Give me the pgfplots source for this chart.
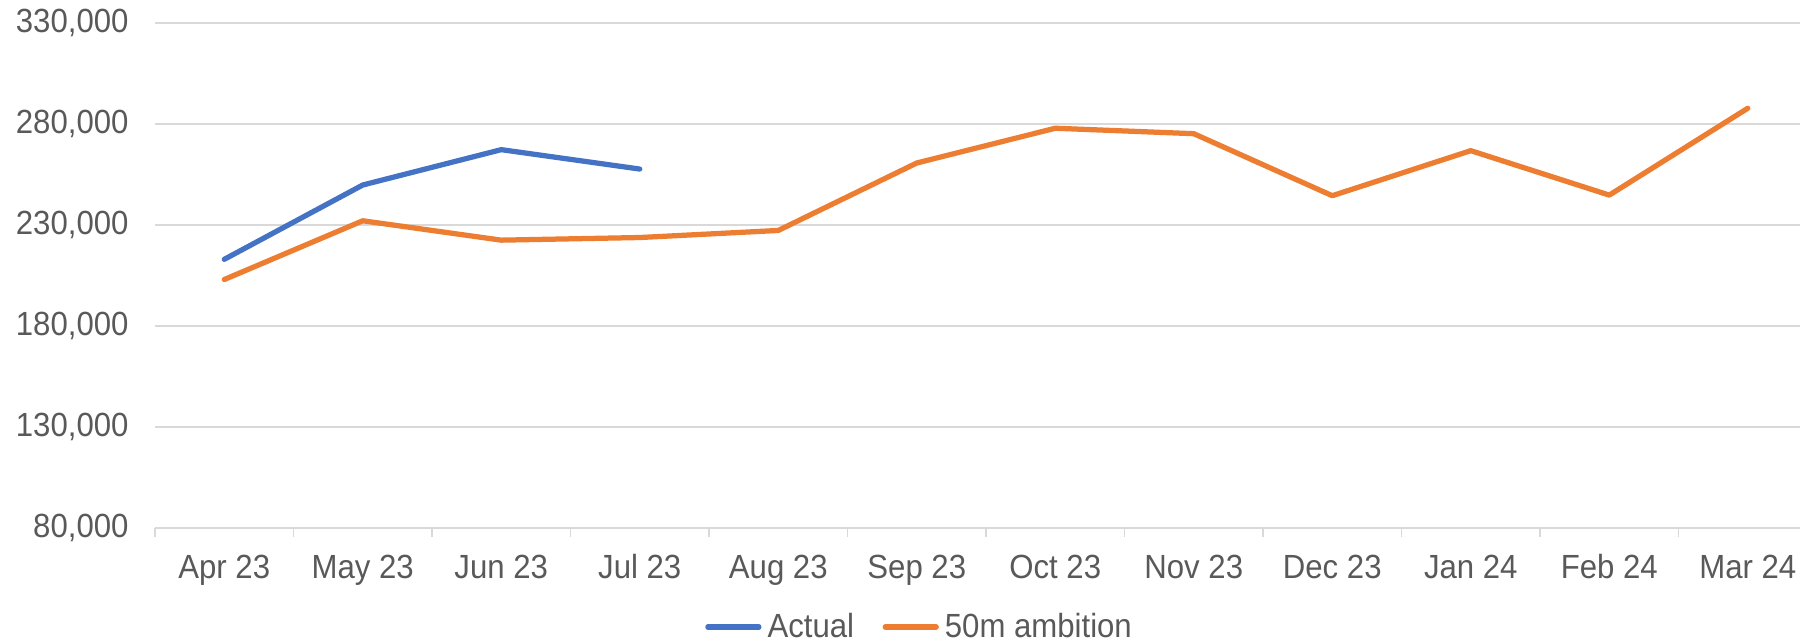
\documentclass[border=0pt]{standalone}
\usepackage{fontspec}
\setmainfont{Liberation Sans}[FakeStretch=0.93]
\usepackage{pgfplots}
\pgfplotsset{compat=1.18}
\definecolor{actualblue}{HTML}{4472C4}
\definecolor{ambitionorange}{HTML}{ED7D31}
\definecolor{gridgrey}{HTML}{D9D9D9}
\definecolor{textgrey}{HTML}{595959}
\begin{document}
\begin{tikzpicture}
\begin{axis}[
  scale only axis,
  width=658pt, height=202pt,
  xmin=-0.5, xmax=11.377,
  ymin=80000, ymax=330000,
  ytick={80000,130000,180000,230000,280000,330000},
  xtick={0,...,11},
  xticklabels={Apr 23,May 23,Jun 23,Jul 23,Aug 23,Sep 23,Oct 23,Nov 23,Dec 23,Jan 24,Feb 24,Mar 24},
  minor xtick={-0.5,0.5,...,10.5},
  major x tick style={draw=none},
  minor x tick style={draw=gridgrey, line width=0.6pt},
  minor tick length=3.6pt,
  tick align=outside,
  ytick style={draw=none},
  axis x line*=bottom,
  axis y line*=left,
  x axis line style={draw=gridgrey, line width=0.6pt, -},
  y axis line style={draw=none},
  ymajorgrids,
  major grid style={draw=gridgrey, line width=0.6pt},
  scaled y ticks=false,
  /pgf/number format/.cd, fixed, 1000 sep={,}, assume math mode=true,
  /pgfplots/.cd,
  tick label style={font=\fontsize{13.4}{16}\selectfont, text=textgrey},
  yticklabel style={xshift=-2.8pt},
  xticklabel style={yshift=-2.6pt, text height=9.6pt, text depth=2.5pt},
  legend columns=2,
  legend style={draw=none, fill=none, at={(axis description cs:0.466,-0.196)}, anchor=center,
    font=\fontsize{13.4}{16}\selectfont, text=textgrey, inner sep=0pt,
    /tikz/every even column/.append style={column sep=9pt},
    nodes={inner xsep=2.4pt, inner ysep=1pt}},
  legend image code/.code={\draw[#1] (0pt,0pt) -- (20.4pt,0pt);},
  every axis plot/.append style={line width=2.1pt, line cap=round, line join=round},
]
\addplot[color=actualblue] coordinates {(0,213000) (1,249800) (2,267300) (3,257700)};
\addlegendentry{Actual}
\addplot[color=ambitionorange] coordinates {(0,203000) (1,232100) (2,222500) (3,223800) (4,227300) (5,260700) (6,277900) (7,275200) (8,244500) (9,266800) (10,244800) (11,287800)};
\addlegendentry{50m ambition}
\end{axis}
\pgfresetboundingbox
\useasboundingbox (-62pt,-46pt) rectangle (658pt,211.2pt);
\end{tikzpicture}
\end{document}
